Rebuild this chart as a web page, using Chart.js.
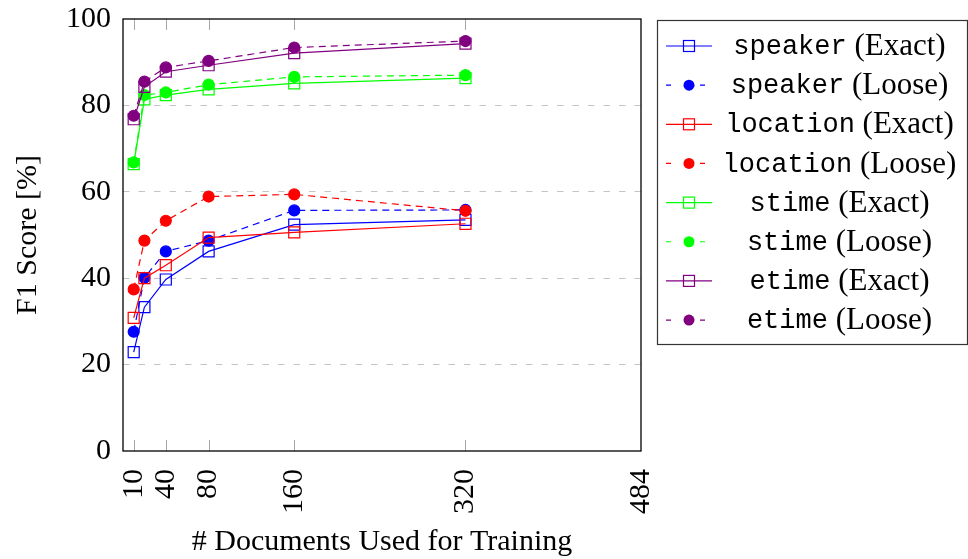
<!DOCTYPE html>
<html>
<head>
<meta charset="utf-8">
<script src="https://cdn.jsdelivr.net/npm/chart.js@4/dist/chart.umd.min.js"></script>
<style>
  html, body { margin: 0; padding: 0; background: #fff; }
  #wrap { width: 968px; height: 559px; }
</style>
</head>
<body>
<div id="wrap"><canvas id="f1Chart" width="968" height="559"></canvas></div>
<script>
// training set sizes and F1 scores
const docCounts = [10, 20, 40, 80, 160, 320];
const xTickValues = [10, 40, 80, 160, 320, 484];
const yTickValues = [0, 20, 40, 60, 80, 100];

const speakerExact = [22.9, 33.3, 39.7, 46.2, 52.4, 53.5];
const speakerLoose = [27.6, 40.1, 46.2, 48.7, 55.7, 55.8];
const locationExact = [30.8, 40.0, 43.0, 49.4, 50.6, 52.6];
const locationLoose = [37.4, 48.7, 53.3, 58.9, 59.4, 55.6];
const stimeExact = [66.4, 81.4, 82.4, 83.7, 85.1, 86.3];
const stimeLoose = [66.8, 82.4, 83.0, 84.8, 86.6, 87.0];
const etimeExact = [76.8, 84.3, 87.8, 89.3, 92.1, 94.3];
const etimeLoose = [77.6, 85.5, 88.8, 90.3, 93.4, 94.9];

const fields = ['speaker', 'location', 'stime', 'etime'];
const fieldColors = ['#0000ff', '#ff0000', '#00ff00', '#800080'];
const seriesData = [
    [speakerExact, speakerLoose],
    [locationExact, locationLoose],
    [stimeExact, stimeLoose],
    [etimeExact, etimeLoose]
];

const SERIF = "'Liberation Serif', 'DejaVu Serif', serif";
const MONO = "'Liberation Mono', 'DejaVu Sans Mono', monospace";

function toPoints(values) {
    return docCounts.map((x, i) => ({ x: x, y: values[i] }));
}

const datasets = [];
fields.forEach((name, f) => {
    const color = fieldColors[f];
    ['Exact', 'Loose'].forEach((kind, k) => {
        const loose = k === 1;
        datasets.push({
            label: name + ' (' + kind + ')',
            field: name,
            kind: kind,
            data: toPoints(seriesData[f][k]),
            borderColor: color,
            borderWidth: 1.2,
            borderDash: loose ? [7, 5] : [],
            tension: 0,
            fill: false,
            pointStyle: loose ? 'circle' : 'rect',
            pointRadius: loose ? 5.5 : 7.8,
            pointBorderWidth: 1.2,
            pointBorderColor: color,
            pointBackgroundColor: loose ? color : 'rgba(255,255,255,0)',
            order: 7 - datasets.length
        });
    });
});

// keep the plot box where the reference has it
function noEdgePadding(axis) {
    axis.paddingTop = 0;
    axis.paddingBottom = 0;
    axis.paddingLeft = 0;
    axis.paddingRight = 0;
}

// frame, inward x ticks and the legend box
const framePlugin = {
    id: 'frame',
    beforeDatasetsDraw(chart) {
        const { ctx, chartArea: a, scales } = chart;
        ctx.save();
        ctx.strokeStyle = '#a8a8a8';
        ctx.lineWidth = 1;
        xTickValues.forEach(v => {
            if (v === 484) return;
            const px = Math.round(scales.x.getPixelForValue(v)) + 0.5;
            ctx.beginPath();
            ctx.moveTo(px, a.bottom); ctx.lineTo(px, a.bottom - 11);
            ctx.moveTo(px, a.top); ctx.lineTo(px, a.top + 11);
            ctx.stroke();
        });
        ctx.restore();
    },
    afterDraw(chart) {
        const { ctx, chartArea: a } = chart;
        ctx.save();
        ctx.strokeStyle = '#000';
        ctx.lineWidth = 1.3;
        ctx.strokeRect(a.left, a.top, a.right - a.left, a.bottom - a.top);

        // legend
        const box = { x: 657.5, y: 20.5, w: 310, h: 324 };
        ctx.strokeStyle = '#333';
        ctx.lineWidth = 1.2;
        ctx.strokeRect(box.x, box.y, box.w, box.h);
        const rowH = 39.15;
        chart.data.datasets.forEach((ds, i) => {
            const cy = 46 + i * rowH;
            const loose = ds.kind === 'Loose';
            ctx.strokeStyle = ds.borderColor;
            ctx.lineWidth = 1.2;
            ctx.setLineDash(loose ? [5, 29] : []);
            ctx.beginPath();
            ctx.moveTo(666, cy); ctx.lineTo(712, cy);
            ctx.stroke();
            ctx.setLineDash([]);
            if (loose) {
                ctx.fillStyle = ds.borderColor;
                ctx.beginPath();
                ctx.arc(689, cy, 5.5, 0, Math.PI * 2);
                ctx.fill();
            } else {
                ctx.strokeRect(683.5, cy - 5.5, 11, 11);
            }
            // label: field in typewriter, kind in serif, centred as a whole
            const monoFont = '27px ' + MONO;
            const serifFont = '31px ' + SERIF;
            ctx.font = monoFont;
            const w1 = ctx.measureText(ds.field).width;
            ctx.font = serifFont;
            const w2 = ctx.measureText(' (' + ds.kind + ')').width;
            let tx = 839.5 - (w1 + w2) / 2;
            ctx.fillStyle = '#000';
            ctx.textBaseline = 'middle';
            ctx.textAlign = 'left';
            ctx.font = monoFont;
            ctx.fillText(ds.field, tx, cy + 1);
            ctx.font = serifFont;
            ctx.fillText(' (' + ds.kind + ')', tx + w1, cy + 1);
        });
        ctx.restore();
    }
};

const chart = new Chart(document.getElementById('f1Chart'), {
    type: 'line',
    data: { datasets: datasets },
    options: {
        responsive: false,
        animation: false,
        layout: { padding: { left: 0, top: 19, right: 327, bottom: 0 } },
        plugins: { legend: { display: false }, tooltip: { enabled: false } },
        scales: {
            x: {
                type: 'linear',
                min: 0,
                max: 484,
                afterBuildTicks: axis => { axis.ticks = xTickValues.map(v => ({ value: v })); },
                afterFit: axis => { axis.height = 108; noEdgePadding(axis); },
                grid: { display: false },
                border: { display: false },
                ticks: {
                    color: '#000',
                    font: { family: SERIF, size: 30 },
                    minRotation: 90,
                    maxRotation: 90,
                    autoSkip: false,
                    padding: 10
                },
                title: {
                    display: true,
                    text: '# Documents Used for Training',
                    color: '#000',
                    font: { family: SERIF, size: 30 },
                    padding: { top: 0, bottom: -1 }
                }
            },
            y: {
                min: 0,
                max: 100,
                afterBuildTicks: axis => { axis.ticks = yTickValues.map(v => ({ value: v })); },
                afterFit: axis => { axis.width = 123; noEdgePadding(axis); },
                grid: {
                    color: c => (c.tick && (c.tick.value === 0 || c.tick.value === 100)) ? 'rgba(0,0,0,0)' : '#c4c4c4',
                    lineWidth: 1,
                    drawTicks: false
                },
                border: { display: false, dash: [6.5, 9] },
                ticks: {
                    color: '#000',
                    font: { family: SERIF, size: 30 },
                    padding: 12
                },
                title: {
                    display: true,
                    text: 'F1 Score [%]',
                    color: '#000',
                    font: { family: SERIF, size: 30 },
                    padding: { top: 10 }
                }
            }
        }
    },
    plugins: [framePlugin]
});
</script>
</body>
</html>
